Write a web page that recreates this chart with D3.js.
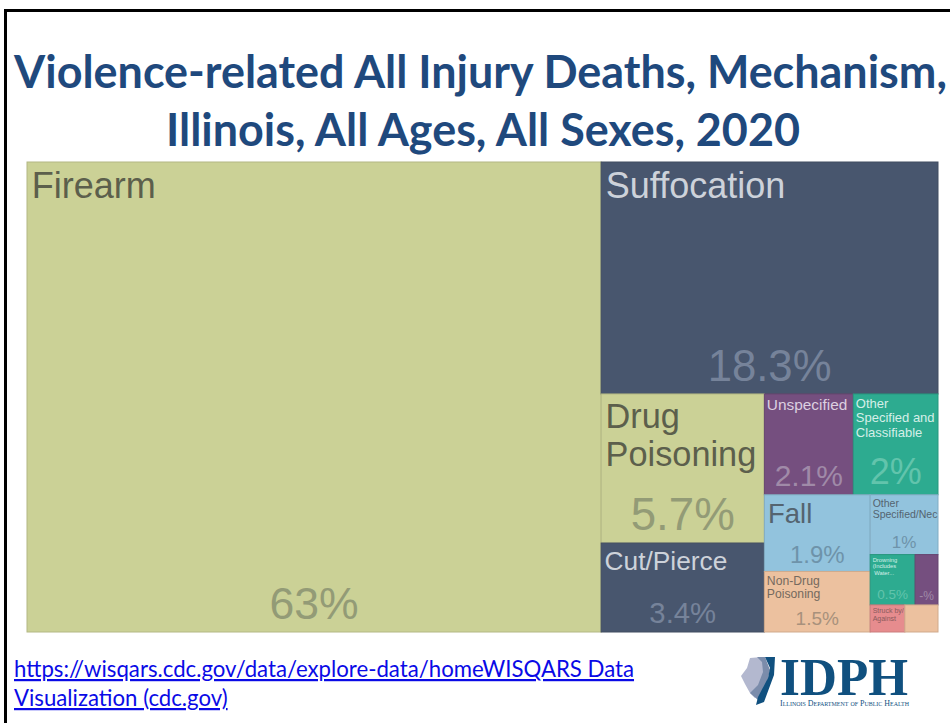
<!DOCTYPE html>
<html><head><meta charset="utf-8">
<script src="https://cdn.jsdelivr.net/npm/d3@7"></script>
<style>html,body{margin:0;padding:0;background:#fff;overflow:hidden}svg{display:block}</style>
</head><body><div id="chart"></div>
<script>
const titleLines = ["Violence-related All Injury Deaths, Mechanism,", "Illinois, All Ages, All Sexes, 2020"];
const categories = ["Firearm","Suffocation","Drug Poisoning","Cut/Pierce","Unspecified","Other Specified and Classifiable","Fall","Non-Drug Poisoning","Other Specified/Nec","Drowning (Includes Water...","Other","Struck by/ Against","Unlabelled"];
const shares = [63.2,18.3,5.7,3.4,2.1,2.0,1.9,1.5,0.95,0.53,0.27,0.22,0.21];
const shareLabels = ["63%","18.3%","5.7%","3.4%","2.1%","2%","1.9%","1.5%","1%","0.5%","-%","",""];
const nameLines = [["Firearm"],["Suffocation"],["Drug","Poisoning"],["Cut/Pierce"],["Unspecified"],["Other","Specified and","Classifiable"],["Fall"],["Non-Drug","Poisoning"],["Other","Specified/Nec"],["Drowning","(Includes"," Water..."],[],["Struck by/","Against"],[]];
const groups = ["olive","navy","olive","navy","purple","teal","blue","peach","blue","teal","purple","pink","peach"];
const palette = {olive:"#cbd196",navy:"#48566e",purple:"#754f7f",teal:"#2dab90",blue:"#92c3dd",peach:"#ecc19f",pink:"#e68c8e"};
const inkName = {olive:"#5c5f4c",navy:"#cdd2da",purple:"#dccfe0",teal:"#d5efe8",blue:"#546470",peach:"#756a5e",pink:"#8a5a5c"};
const inkShare = {olive:"#939b76",navy:"#76839a",purple:"#a08aa8",teal:"#62c4ac",blue:"#6e93aa",peach:"#a8917c",pink:"#8a5a5c"};
const nameSizes = [36,36,34.3,26.3,15.4,13,27.5,12.2,10.5,5.8,0,7,0];
const shareSizes = [44.5,43.7,45.7,29.3,30,36,24,19,17,13.5,12,0,0];
// nesting of the tree map, leaves are indexes into the arrays above
const nesting = [0,[1,[[2,3],[[4,5],[[6,7],[8,[9,10],[11,12]]]]]]];
const footerLines = ["https://wisqars.cdc.gov/data/explore-data/homeWISQARS Data","Visualization (cdc.gov)"];
const logoText = "IDPH", logoSub = "Illinois Department of Public Health";

const W=950,H=723;
const svg=d3.select("#chart").append("svg").attr("width",W).attr("height",H);
svg.append("path").attr("d","M5.5,723V10.5H950").attr("fill","none").attr("stroke","#000").attr("stroke-width",3);
svg.selectAll("text.title").data(titleLines).join("text").attr("class","title")
 .attr("x",(d,i)=>i?483:480.5).attr("y",(d,i)=>i?146:88).attr("text-anchor","middle")
 .attr("font-family","Lato, sans-serif").attr("font-weight",700).attr("font-size",44.9).attr("fill","#1f497d").text(d=>d);

function toTree(n){return Array.isArray(n)?{children:n.map(toTree)}:{i:n,value:shares[n]};}
const root=d3.hierarchy(toTree(nesting)).sum(d=>d.value||0);
d3.treemap().size([911,470]).round(false).tile((node,x0,y0,x1,y1)=>{
  (node.depth%2?d3.treemapSlice:d3.treemapDice)(node,x0,y0,x1,y1);
})(root);
const g=svg.append("g").attr("transform","translate(27,162)");
const cells=g.selectAll("g").data(root.leaves()).join("g").attr("transform",d=>`translate(${d.x0},${d.y0})`);
const font="'Liberation Sans', Arial, sans-serif";
cells.append("rect").attr("width",d=>d.x1-d.x0).attr("height",d=>d.y1-d.y0)
 .attr("fill",d=>palette[groups[d.data.i]])
 .attr("stroke",d=>d3.color(palette[groups[d.data.i]]).darker(0.35)).attr("stroke-width",1);
cells.each(function(d){
  const i=d.data.i,s=d3.select(this),w=d.x1-d.x0,h=d.y1-d.y0,fs=nameSizes[i],c=groups[i];
  nameLines[i].forEach((t,k)=>{
    s.append("text").attr("x",Math.max(2.5,fs*0.13)).attr("y",fs*0.93+k*fs*1.1+(fs>20?2.5:2)).style("white-space","pre")
     .attr("font-family",font).attr("font-size",fs).attr("fill",inkName[c]).text(t);
  });
  if(shareLabels[i]) s.append("text").attr("x",w/2).attr("y",h-shareSizes[i]*0.27-2+(shareSizes[i]>28?1:0)).attr("text-anchor","middle")
     .attr("font-family",font).attr("font-size",shareSizes[i]).attr("fill",inkShare[c]).text(shareLabels[i]);
});
// footer link
svg.selectAll("text.foot").data(footerLines).join("text").attr("class","foot")
 .attr("x",14).attr("y",(d,i)=>677+i*29).attr("font-family","Lato, sans-serif").attr("font-size",22.2)
 .attr("fill","#0a0ae6").attr("text-decoration","underline").text(d=>d);
// logo
const lg=svg.append("g").attr("transform","translate(720,640)");
lg.append("path").attr("d","M30,18L42,17L45,30L42,45L35,58L30,53L25,44L21,36L27,28Z").attr("fill","#b3b8cf");
lg.append("path").attr("d","M37,17L45,17L50,30L47,42L38,60L30,53L38,45L43,32L42,22Z").attr("fill","#7b8cab");
lg.append("path").attr("d","M45,17L55,17L54,35L44,62L36,65L38,57L48,38L50,28Z").attr("fill","#10507f");
lg.append("text").attr("x",60).attr("y",55).attr("font-family","'Liberation Serif', serif").attr("font-weight",700).attr("font-size",52).attr("textLength",128).attr("lengthAdjust","spacingAndGlyphs").attr("fill","#10507f").text(logoText);
lg.append("text").attr("x",60).attr("y",65.5).attr("font-family","'Liberation Serif', serif").attr("font-size",8).attr("textLength",129).attr("lengthAdjust","spacingAndGlyphs").style("font-variant","small-caps").attr("fill","#10507f").text(logoSub);
</script></body></html>
